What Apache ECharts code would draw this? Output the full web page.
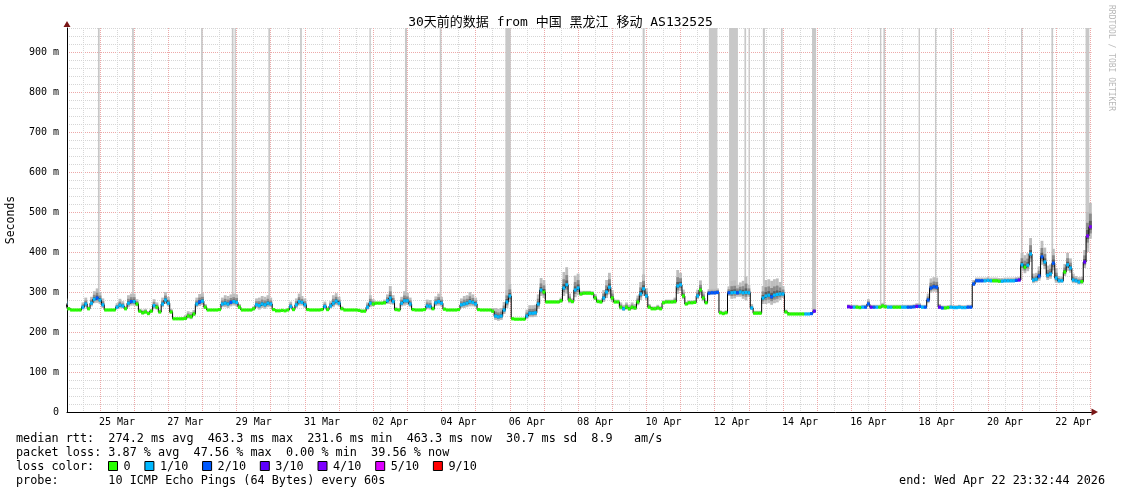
<!DOCTYPE html>
<html><head><meta charset="utf-8">
<script src="https://cdn.jsdelivr.net/npm/echarts@6/dist/echarts.min.js"></script>
<style>html,body{margin:0;padding:0;background:#fff}#c{width:1121px;height:494px}</style>
</head><body><div id="c"></div>
<script>
// ---- data (x unit = days since Mar 24 00:00, one value every 2 hours) ----
const titleText = '30天前的数据 from 中国 黑龙江 移动 AS132525';
const dayLabels = ['25 Mar','27 Mar','29 Mar','31 Mar','02 Apr','04 Apr','06 Apr','08 Apr','10 Apr','12 Apr','14 Apr','16 Apr','18 Apr','20 Apr','22 Apr'];
const yTickStep = 100;
const N = null;
const medianByDay = [
  [272,258,255,255,255,255,262,270,258,272,282,285],
  [280,268,255,255,255,255,262,267,265,258,272,276],
  [276,270,252,248,250,246,252,266,262,250,270,280],
  [272,250,233,233,233,233,234,240,238,245,270,275],
  [277,262,255,255,255,255,256,270,272,270,274,276],
  [274,262,255,255,255,255,258,268,266,270,268,272],
  [270,256,253,253,254,253,255,264,256,268,276,274],
  [268,256,255,255,255,255,256,264,256,265,272,277],
  [272,258,255,255,255,255,255,254,252,252,262,272],
  [270,272,272,272,273,278,285,276,256,255,272,278],
  [278,270,256,255,255,255,256,265,264,258,273,276],
  [272,257,255,255,255,255,256,268,270,272,276,274],
  [270,256,255,255,255,255,252,240,238,240,255,275],
  [290,233,232,232,232,232,240,247,247,248,270,305],
  [300,275,275,275,275,275,278,310,318,280,276,305],
  [310,295,297,297,297,296,285,276,275,285,300,312],
  [285,275,275,262,258,262,258,262,260,275,295,308],
  [290,262,258,258,260,258,273,275,275,275,276,315],
  [318,290,270,273,273,274,290,305,285,273,297,298],
  [298,299,248,246,248,298,298,299,298,300,298,299],
  [298,260,247,247,247,285,290,292,288,292,294,295],
  [295,250,245,245,245,245,245,245,245,245,246,252],
  [N,N,N,N,N,N,N,N,N,N,N,263],
  [262,262,262,261,262,262,270,262,262,262,262,265],
  [263,262,262,262,262,262,262,262,262,262,263,264],
  [264,262,262,280,310,313,312,262,260,260,261,262],
  [261,261,262,261,261,262,262,320,328,328,328,328],
  [329,328,328,328,327,327,328,328,328,328,329,330],
  [368,362,367,395,330,332,340,388,375,342,345,372],
  [335,328,328,350,368,360,330,328,325,326,375,440],
  [463]
];
const lossByDay = [
  [1,0,0,0,0,0,1,1,0,1,1,2],
  [1,1,0,0,0,0,1,1,1,0,1,2],
  [1,0,0,0,0,0,0,1,0,0,1,1],
  [1,0,0,0,0,0,0,0,0,0,1,2],
  [1,0,0,0,0,0,0,1,1,1,2,1],
  [1,0,0,0,0,0,0,1,1,1,1,1],
  [1,0,0,0,0,0,0,1,0,1,1,1],
  [1,0,0,0,0,0,0,1,0,1,1,1],
  [1,0,0,0,0,0,0,0,0,0,1,1],
  [0,0,0,0,0,1,1,1,0,0,1,1],
  [1,1,0,0,0,0,0,1,1,0,1,1],
  [1,0,0,0,0,0,0,1,1,1,1,1],
  [1,0,0,0,0,0,0,1,1,1,1,1],
  [1,0,0,0,0,0,1,1,1,1,1,1],
  [0,0,0,0,0,0,0,1,1,0,0,1],
  [1,0,0,0,0,0,0,0,0,1,1,1],
  [0,0,0,0,1,0,0,0,0,0,1,1],
  [1,0,0,0,0,0,0,0,0,0,0,1],
  [1,0,0,0,0,0,1,0,0,0,2,2],
  [2,2,0,0,0,2,1,1,2,1,1,1],
  [1,1,0,0,0,1,1,1,2,1,1,1],
  [1,0,0,0,0,0,0,0,1,1,2,3],
  [N,N,N,N,N,N,N,N,N,N,N,3],
  [3,1,0,0,1,2,2,3,2,1,0,0],
  [0,1,1,0,0,0,1,1,2,2,2,3],
  [2,1,2,2,2,2,2,3,2,0,0,1],
  [1,1,1,1,1,2,2,2,2,2,2,1],
  [1,1,0,0,0,1,1,1,1,1,2,3],
  [1,0,1,1,1,1,2,2,1,1,1,2],
  [1,1,1,0,1,1,1,1,1,0,3,4],
  [4]
];
const smokeByDay = [
  [6,2,1,1,1,2,6,8,3,8,10,12],
  [10,8,1,1,1,1,5,8,6,3,10,10],
  [10,6,3,4,4,3,3,8,6,3,8,10],
  [8,4,1,1,1,2,4,6,6,5,8,10],
  [10,4,1,1,1,1,2,8,10,10,10,10],
  [10,4,1,1,1,1,3,8,10,10,10,10],
  [8,2,1,1,1,1,2,6,3,8,10,8],
  [8,2,1,1,1,1,2,6,3,6,10,10],
  [8,3,1,1,1,1,1,1,2,2,6,10],
  [6,2,2,2,4,8,15,8,3,2,8,12],
  [10,8,2,1,1,1,2,8,8,3,8,10],
  [8,2,1,1,1,1,2,8,10,10,12,10],
  [8,2,1,1,1,1,4,10,10,10,10,15],
  [15,2,1,1,1,1,8,10,10,10,12,15],
  [15,2,2,2,2,2,4,20,22,8,4,18],
  [18,4,3,3,3,3,5,3,3,10,15,18],
  [10,3,3,6,5,6,5,6,5,8,15,18],
  [10,4,3,3,4,3,3,3,3,3,5,20],
  [15,8,3,3,3,3,8,12,8,3,5,5],
  [5,5,3,3,3,8,15,15,10,12,15,20],
  [10,5,3,3,3,15,20,20,20,20,20,15],
  [10,3,2,2,2,2,2,2,2,2,2,4],
  [N,N,N,N,N,N,N,N,N,N,N,3],
  [3,3,3,3,3,3,6,3,3,3,3,4],
  [3,3,3,3,3,3,3,3,3,3,3,4],
  [4,3,3,8,12,12,12,4,3,3,3,3],
  [3,3,3,3,3,3,3,5,4,4,4,4],
  [4,4,4,4,4,4,4,4,4,4,4,4],
  [15,15,15,20,8,8,12,20,18,12,12,18],
  [12,6,5,10,15,12,8,6,6,6,15,30],
  [30]
];
// full-height grey bars: [startDay, endDay, lower edge in ms]
const outages = [
  [0.94,0.99,285],[1.94,1.99,275],[3.96,4.01,277],[4.86,4.91,272],[4.94,4.98,274],
  [5.93,5.98,270],[6.86,6.91,275],[8.89,8.93,272],[9.93,9.99,278],[10.95,11.0,274],
  [12.87,13.03,285],[16.89,16.95,305],[18.83,19.08,298],[19.42,19.68,298],[19.87,19.92,300],
  [19.99,20.03,298],[20.41,20.47,292],[20.94,20.99,295],[21.85,21.97,252],[23.84,23.88,264],
  [23.94,23.99,264],[24.97,25.01,264],[25.45,25.49,312],[25.9,25.95,262],[27.97,28.01,330],
  [28.86,28.91,372],[29.86,29.97,400]
];
const lossLevels = ['0','1/10','2/10','3/10','4/10','5/10','9/10'];
const lossColors = ['#26ff00','#00b8ff','#0059ff','#5e00ff','#7e00ff','#dd00ff','#ff0000'];
const statLine1 = 'median rtt:  274.2 ms avg  463.3 ms max  231.6 ms min  463.3 ms now  30.7 ms sd  8.9   am/s';
const statLine2 = 'packet loss: 3.87 % avg  47.56 % max  0.00 % min  39.56 % now';
const statLine3 = 'loss color:';
const probeLabel = 'probe:       10 ICMP Echo Pings (64 Bytes) every 60s';
const endLabel = 'end: Wed Apr 22 23:32:44 2026';
const yAxisName = 'Seconds';
const watermark = 'RRDTOOL / TOBI OETIKER';

// ---- build ----
const X_MIN = 0.0337, X_MAX = 30.0337, Y_MAX = 960, STEP = 1/12;
const pts = [];
medianByDay.forEach((row, d) => row.forEach((v, j) => {
  pts.push([d + j * STEP, v, lossByDay[d][j], smokeByDay[d][j]]);
}));
const valid = pts.filter(p => p[1] != null);
const gridTicks = [];
for (let k = 1; k <= 60; k++) gridTicks.push(k / 2);
const labelTicks = dayLabels.map((_, i) => 1.5 + 2 * i);
const MONO = '"DejaVu Sans Mono", "Noto Sans CJK SC", monospace';
const ARROW = '#7a1616';

const chart = echarts.init(document.getElementById('c'), null, {renderer: 'canvas'});

function rectFrom(api, x0, x1, y0, y1) {
  const a = api.coord([x0, y0]), b = api.coord([x1, y1]);
  return {x: a[0], y: b[1], width: b[0] - a[0], height: a[1] - b[1]};
}
function txt(x, y, text, extra) {
  return {type:'text', x, y, style:Object.assign({text, font:'11.8px ' + MONO, fill:'#000', textVerticalAlign:'middle', verticalAlign:'middle'}, extra || {})};
}

const graphics = [];
const rows = [438.5, 452.5, 466.5, 480.5];
graphics.push(txt(16, rows[0], statLine1));
graphics.push(txt(16, rows[1], statLine2));
graphics.push(txt(16, rows[2], statLine3));
let lx = 108.5;
const CW = 7.1;
lossLevels.forEach((lab, i) => {
  graphics.push({type:'rect', shape:{x:lx, y:rows[2]-5, width:9, height:9}, style:{fill:lossColors[i], stroke:'#000', lineWidth:1}});
  graphics.push(txt(lx + 15, rows[2], lab));
  lx += 8 + CW * (lab.length + 3);
});
graphics.push(txt(16, rows[3], probeLabel));
graphics.push(txt(1105, rows[3], endLabel, {textAlign:'right', align:'right'}));
graphics.push({type:'text', x:1111, y:5, rotation:-Math.PI/2, style:{text:watermark, font:'8px ' + MONO, fill:'#b8b8b8', textVerticalAlign:'middle', verticalAlign:'middle'}});

const option = {
  backgroundColor: '#ffffff',
  animation: false,
  title: {text: titleText, left: 'center', top: 11, textStyle: {fontFamily: MONO, fontSize: 13, fontWeight: 'normal', color: '#000'}},
  grid: {left: 67, right: 29.5, top: 28, bottom: 82, containLabel: false, outerBoundsMode: 'none'},
  xAxis: [{
    type: 'value', min: X_MIN, max: X_MAX,
    axisLine: {show: true, onZero: false, lineStyle: {color: '#000', width: 1}},
    axisTick: {show: false, customValues: gridTicks},
    axisLabel: {customValues: labelTicks, formatter: v => dayLabels[Math.round((v - 1.5) / 2)], fontFamily: MONO, fontSize: 10, color: '#000', margin: 5},
    splitLine: {show: true, lineStyle: {color: ['#d6d6d6', '#eda8a8'], type: [1, 1], width: 1}}
  }],
  yAxis: [{
    type: 'value', min: 0, max: Y_MAX, interval: 20,
    name: yAxisName, nameLocation: 'middle', nameGap: 50, nameRotate: 90,
    nameTextStyle: {fontFamily: MONO, fontSize: 11.5, color: '#000'},
    axisLine: {show: true, lineStyle: {color: '#000', width: 1}},
    axisTick: {show: false},
    axisLabel: {formatter: v => v === 0 ? '0' : (v % yTickStep === 0 ? v + ' m' : ''), fontFamily: MONO, fontSize: 10, color: '#000', margin: 8},
    splitLine: {show: true, lineStyle: {color: ['#eda8a8', '#d6d6d6', '#d6d6d6', '#d6d6d6', '#d6d6d6'], type: [1, 1], width: 1}}
  }],
  graphic: graphics,
  series: [
    {
      type: 'custom', name: 'outage', clip: true, z: 1,
      data: outages, encode: {x: [0, 1], y: 2},
      renderItem: (params, api) => ({type: 'rect', shape: rectFrom(api, api.value(0), api.value(1), api.value(2), Y_MAX), style: {fill: '#c8c8c8'}})
    },
    {
      type: 'custom', name: 'smoke', clip: true, z: 2,
      data: valid, encode: {x: 0, y: 1},
      renderItem: (params, api) => {
        const x = api.value(0), m = api.value(1), s = api.value(3);
        return {type: 'group', children: [
          {type: 'rect', shape: rectFrom(api, x - STEP/2, x + STEP/2, m - 1.0 * s, m + 2.0 * s), style: {fill: '#bdbdbd'}},
          {type: 'rect', shape: rectFrom(api, x - STEP/2, x + STEP/2, m - 0.55 * s, m + 1.1 * s), style: {fill: '#8a8a8a'}},
          {type: 'rect', shape: rectFrom(api, x - STEP/2, x + STEP/2, m - 0.25 * s, m + 0.5 * s), style: {fill: '#5c5c5c'}}
        ]};
      }
    },
    {
      type: 'line', name: 'median', z: 3, step: 'middle', showSymbol: false, connectNulls: false,
      data: pts.map(p => [p[0], p[1]]),
      lineStyle: {color: '#000', width: 1}
    },
    {
      type: 'custom', name: 'loss', clip: true, z: 4,
      data: valid, encode: {x: 0, y: 1},
      renderItem: (params, api) => {
        const x = api.value(0), m = api.value(1);
        const a = api.coord([x - STEP/2, m]), b = api.coord([x + STEP/2, m]);
        return {type: 'rect', shape: {x: a[0], y: a[1] - 1.6, width: b[0] - a[0], height: 3.2}, style: {fill: lossColors[api.value(2)]}};
      }
    }
  ]
};
chart.setOption(option);

// axis arrows, placed at the axis ends given by the chart's own scales
const origin = chart.convertToPixel({gridIndex: 0}, [X_MIN, 0]);
const xEnd = chart.convertToPixel({gridIndex: 0}, [X_MAX, 0]);
const yEnd = chart.convertToPixel({gridIndex: 0}, [X_MIN, Y_MAX]);
graphics.push({type:'polygon', shape:{points:[[xEnd[0], origin[1]-3.5], [xEnd[0], origin[1]+3.5], [xEnd[0]+6.5, origin[1]]]}, style:{fill:ARROW}, z: 100});
graphics.push({type:'polygon', shape:{points:[[origin[0]-3.5, yEnd[1]-1], [origin[0]+3.5, yEnd[1]-1], [origin[0], yEnd[1]-7]]}, style:{fill:ARROW}, z: 100});
chart.setOption({graphic: graphics});
</script>
</body></html>
